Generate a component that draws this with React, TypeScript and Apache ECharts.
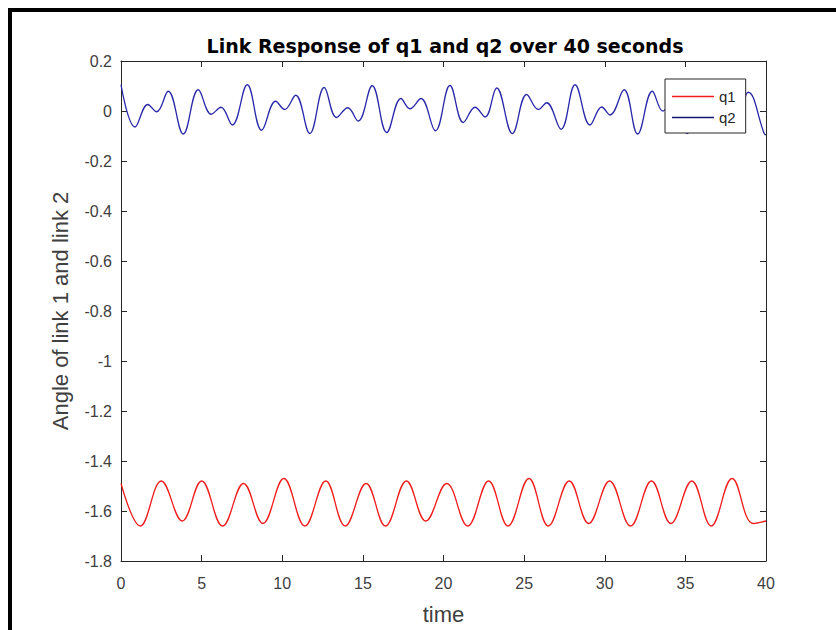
import React, { useEffect, useRef } from "react";
import * as echarts from "echarts";

// ---- data (extrema of each trace) ----
const q1Time = [0, 1.2, 2.5, 3.8, 5.0, 6.3, 7.6, 8.8, 10.1, 11.4, 12.7, 13.9, 15.2, 16.4, 17.7, 18.9, 20.2, 21.5, 22.8, 24.0, 25.3, 26.5, 27.8, 29.0, 30.3, 31.6, 32.9, 34.1, 35.4, 36.6, 37.9, 39.2, 40];
const q1Values = [-1.49, -1.66, -1.48, -1.64, -1.48, -1.66, -1.49, -1.65, -1.47, -1.66, -1.48, -1.66, -1.49, -1.66, -1.48, -1.64, -1.49, -1.66, -1.48, -1.66, -1.47, -1.66, -1.48, -1.65, -1.48, -1.66, -1.48, -1.65, -1.48, -1.66, -1.47, -1.65, -1.64];

const q2Time = [0, 0.87, 1.66, 2.21, 2.93, 3.86, 4.79, 5.6, 6.2, 6.9, 7.83, 8.72, 9.59, 10.15, 10.83, 11.71, 12.6, 13.37, 14.06, 14.71, 15.58, 16.48, 17.36, 17.92, 18.6, 19.5, 20.4, 21.23, 21.96, 22.58, 23.3, 24.27, 25.16, 25.88, 26.4, 27.29, 28.16, 29.09, 29.81, 30.33, 31.2, 32.04, 32.95, 33.6, 34.2, 35.1, 36.0, 36.8, 37.5, 38.1, 38.9, 39.9, 40];
const q2Values = [0.105, -0.064, 0.026, -0.003, 0.079, -0.092, 0.085, -0.013, 0.015, -0.056, 0.105, -0.077, 0.039, 0.006, 0.063, -0.09, 0.094, -0.026, 0.013, -0.04, 0.101, -0.086, 0.05, 0.009, 0.05, -0.079, 0.102, -0.046, 0.015, -0.024, 0.092, -0.09, 0.066, 0.006, 0.033, -0.073, 0.105, -0.056, 0.016, -0.016, 0.085, -0.092, 0.079, 0.0, 0.04, -0.09, 0.09, -0.03, 0.015, -0.04, 0.075, -0.092, -0.095];

const xTicks = { min: 0, max: 40, interval: 5 };
const yTicks = { min: -1.8, max: 0.2, interval: 0.2 };

const TITLE = "Link Response of q1 and q2 over 40 seconds";
const X_NAME = "time";
const Y_NAME = "Angle of link 1 and link 2";

const AXIS_COLOR = "#262626";
const LABEL_COLOR = "#404040";

export default function App() {
  const ref = useRef<HTMLDivElement>(null);

  useEffect(() => {
    if (!ref.current) return;
    const chart = echarts.init(ref.current, undefined, { renderer: "svg" });

    const q1Data = q1Time.map((t, i) => [t, q1Values[i]]);
    const q2Data = q2Time.map((t, i) => [t, q2Values[i]]);

    const baseAxisLine = { show: true, onZero: false, lineStyle: { color: AXIS_COLOR, width: 1 } };
    const baseTick = { show: true, inside: true, length: 6, lineStyle: { color: AXIS_COLOR, width: 1 } };

    chart.setOption({
      animation: false,
      backgroundColor: "#ffffff",
      title: {
        text: TITLE,
        left: 440,
        top: 31,
        textAlign: "center",
        textStyle: {
          fontFamily: "DejaVu Sans",
          fontWeight: "bold",
          fontSize: 19,
          color: "#000000",
        },
      },
      grid: { left: 121, top: 61, width: 645, height: 506, containLabel: false },
      legend: {
        orient: "vertical",
        left: 665,
        top: 79,
        icon: "rect",
        itemWidth: 42,
        itemHeight: 1.5,
        itemGap: 6,
        padding: [10, 10, 8, 7],
        backgroundColor: "#ffffff",
        borderColor: AXIS_COLOR,
        borderWidth: 1,
        borderRadius: 0,
        textStyle: { fontFamily: "Liberation Sans", fontSize: 15, color: AXIS_COLOR },
        data: ["q1", "q2"],
      },
      xAxis: [
        {
          type: "value",
          position: "bottom",
          ...xTicks,
          name: X_NAME,
          nameLocation: "middle",
          nameGap: 42,
          nameTextStyle: { fontFamily: "Liberation Sans", fontSize: 22, color: LABEL_COLOR },
          axisLine: baseAxisLine,
          axisTick: baseTick,
          splitLine: { show: false },
          axisLabel: { fontFamily: "Liberation Sans", fontSize: 16, color: LABEL_COLOR, margin: 14 },
        },
        {
          type: "value",
          position: "top",
          ...xTicks,
          axisLine: baseAxisLine,
          axisTick: baseTick,
          splitLine: { show: false },
          axisLabel: { show: false },
        },
      ],
      yAxis: [
        {
          type: "value",
          position: "left",
          ...yTicks,
          name: Y_NAME,
          nameLocation: "middle",
          nameGap: 50,
          nameRotate: 90,
          nameTextStyle: { fontFamily: "Liberation Sans", fontSize: 22, color: LABEL_COLOR },
          axisLine: baseAxisLine,
          axisTick: baseTick,
          splitLine: { show: false },
          axisLabel: { fontFamily: "Liberation Sans", fontSize: 16, color: LABEL_COLOR, margin: 9 },
        },
        {
          type: "value",
          position: "right",
          ...yTicks,
          axisLine: baseAxisLine,
          axisTick: baseTick,
          splitLine: { show: false },
          axisLabel: { show: false },
        },
      ],
      series: [
        {
          name: "q1",
          type: "line",
          data: q1Data,
          showSymbol: false,
          symbol: "none",
          smooth: 0.4,
          lineStyle: { color: "#f01c1c", width: 1.3 },
          itemStyle: { color: "#f01c1c" },
          xAxisIndex: 0,
          yAxisIndex: 0,
        },
        {
          name: "q2",
          type: "line",
          data: q2Data,
          showSymbol: false,
          symbol: "none",
          smooth: 0.4,
          lineStyle: { color: "#2828aa", width: 1.3 },
          itemStyle: { color: "#15157a" },
          xAxisIndex: 0,
          yAxisIndex: 0,
        },
      ],
      graphic: [
        { type: "rect", left: 8, top: 8, shape: { width: 4, height: 622 }, style: { fill: "#000000" } },
        { type: "rect", left: 8, top: 8, shape: { width: 828, height: 4 }, style: { fill: "#000000" } },
      ],
    });

    return () => chart.dispose();
  }, []);

  return (
    <div
      ref={ref}
      style={{ position: "absolute", left: 0, top: 0, width: 836, height: 630 }}
    />
  );
}
